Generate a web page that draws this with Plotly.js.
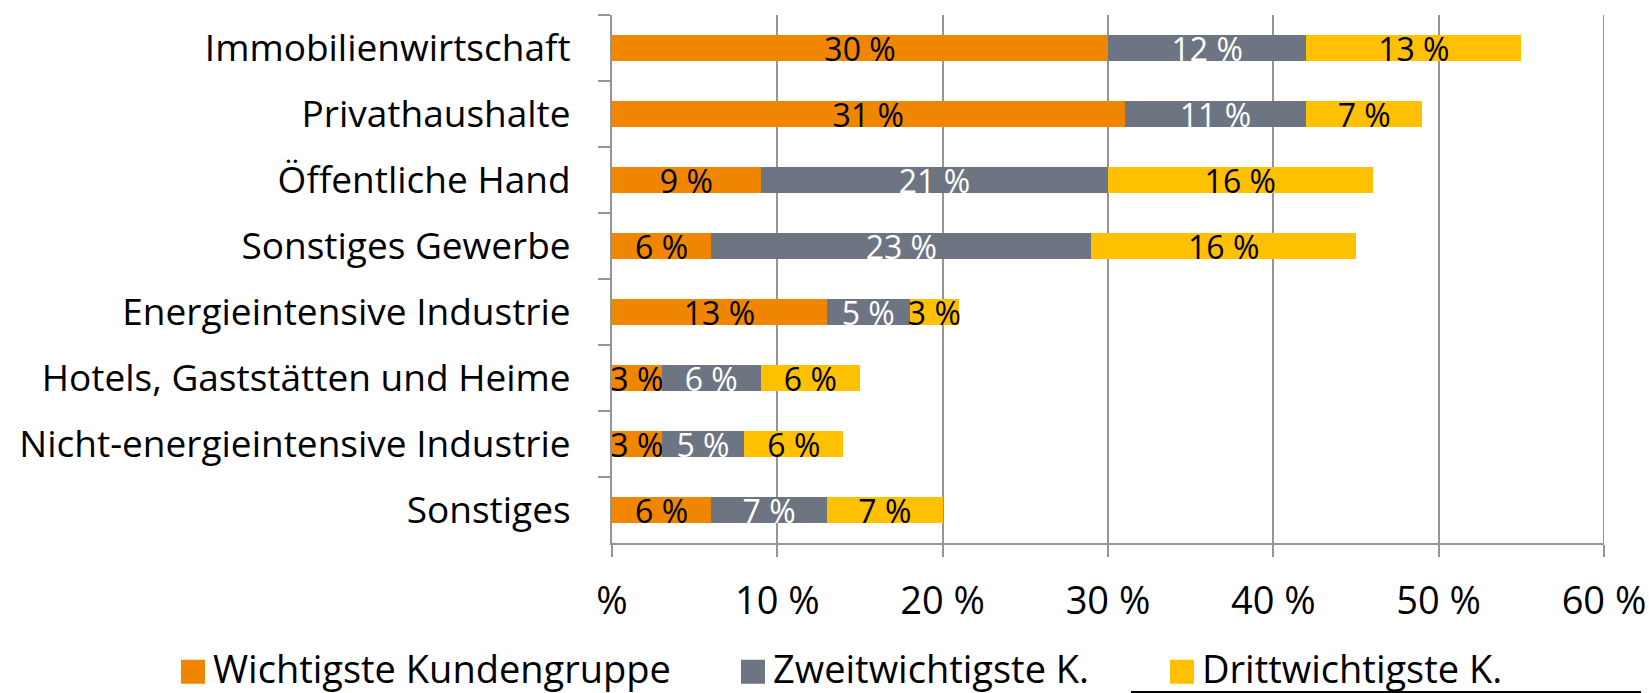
<!DOCTYPE html>
<html>
<head>
<meta charset="utf-8">
<script src="https://cdn.plot.ly/plotly-3.0.1.min.js"></script>
<style>
  html, body { margin: 0; padding: 0; background: #ffffff; }
  #chart { width: 1649px; height: 693px; }
</style>
</head>
<body>
<div id="chart"></div>
<script>
// ---- data ----
const categories = [
  "Immobilienwirtschaft",
  "Privathaushalte",
  "Öffentliche Hand",
  "Sonstiges Gewerbe",
  "Energieintensive Industrie",
  "Hotels, Gaststätten und Heime",
  "Nicht-energieintensive Industrie",
  "Sonstiges"
];
const seriesNames = ["Wichtigste Kundengruppe", "Zweitwichtigste K.", "Drittwichtigste K."];
const wichtigste      = [30, 31, 9, 6, 13, 3, 3, 6];
const zweitwichtigste = [12, 11, 21, 23, 5, 6, 5, 7];
const drittwichtigste = [13, 7, 16, 16, 3, 6, 6, 7];
const tickValues = [0, 10, 20, 30, 40, 50, 60];
const tickLabels = ["%", "10 %", "20 %", "30 %", "40 %", "50 %", "60 %"];

// ---- styles ----
const colors = ["#F08600", "#6C7581", "#FFC000"];
const labelColors = ["#000000", "#FFFFFF", "#000000"];
const font = "'Open Sans', 'Liberation Sans', sans-serif";
const gridGray = "#959595";

const W = 1649, H = 693;
const M = { l: 612, r: 45, t: 15, b: 150 };
const PW = W - M.l - M.r, PH = H - M.t - M.b;
const px2x = px => (px - M.l) / PW;
const py2y = py => 1 - (py - M.t) / PH;

const allSeries = [wichtigste, zweitwichtigste, drittwichtigste];
const legendIds = ["legend", "legend2", "legend3"];

const traces = allSeries.map((vals, i) => ({
  type: "bar",
  orientation: "h",
  name: seriesNames[i],
  y: categories,
  x: vals,
  text: vals.map(v => v + " %"),
  textposition: "inside",
  insidetextanchor: "middle",
  textangle: 0,
  constraintext: "none",
  cliponaxis: false,
  textfont: { family: font, size: 32, color: labelColors[i] },
  marker: { color: colors[i], line: { width: 0 } },
  legend: legendIds[i],
  hoverinfo: "skip"
}));

const legendBase = {
  orientation: "h",
  yanchor: "middle",
  xanchor: "left",
  y: py2y(668),
  borderwidth: 0,
  bgcolor: "rgba(0,0,0,0)",
  font: { family: font, size: 38, color: "#000000" }
};

const layout = {
  width: W, height: H,
  margin: { l: M.l, r: M.r, t: M.t, b: M.b, pad: 0, autoexpand: false },
  paper_bgcolor: "#ffffff",
  plot_bgcolor: "#ffffff",
  barmode: "stack",
  bargap: 0.606,
  showlegend: true,
  legend:  Object.assign({}, legendBase, { x: px2x(173) }),
  legend2: Object.assign({}, legendBase, { x: px2x(733) }),
  legend3: Object.assign({}, legendBase, { x: px2x(1162) }),
  xaxis: {
    range: [0, 60],
    tickvals: tickValues,
    ticktext: tickLabels,
    ticklabeloverflow: "allow",
    showgrid: true,
    gridcolor: gridGray,
    gridwidth: 2,
    zeroline: false,
    showline: true,
    linecolor: gridGray,
    linewidth: 2,
    ticks: "outside",
    ticklen: 12,
    tickwidth: 2,
    tickcolor: gridGray,
    ticklabelstandoff: 11,
    tickfont: { family: font, size: 38, color: "#000000" },
    fixedrange: true
  },
  yaxis: {
    type: "category",
    categoryorder: "array",
    categoryarray: categories,
    autorange: "reversed",
    showgrid: false,
    zeroline: false,
    showline: true,
    linecolor: gridGray,
    linewidth: 2,
    ticks: "outside",
    tickson: "boundaries",
    ticklen: 12,
    tickwidth: 2,
    tickcolor: gridGray,
    ticklabelstandoff: 32,
    tickfont: { family: font, size: 37, color: "#000000" },
    fixedrange: true
  },
  shapes: [
    {
      type: "line", xref: "x", yref: "paper", layer: "below",
      x0: 60, x1: 60, y0: 0, y1: 1,
      line: { color: gridGray, width: 2 }
    },
    {
      type: "line", xref: "paper", yref: "paper",
      x0: px2x(1131), x1: px2x(1641), y0: py2y(692), y1: py2y(692),
      line: { color: "#000000", width: 2 }
    }
  ]
};

Plotly.newPlot("chart", traces, layout, { displayModeBar: false, staticPlot: true }).then(() => {
  document.querySelectorAll(".legendpoints path").forEach(p => {
    p.setAttribute("d", "M12,16H-12V-8H12Z");
    p.style.strokeWidth = "0px";
  });
});
</script>
</body>
</html>
